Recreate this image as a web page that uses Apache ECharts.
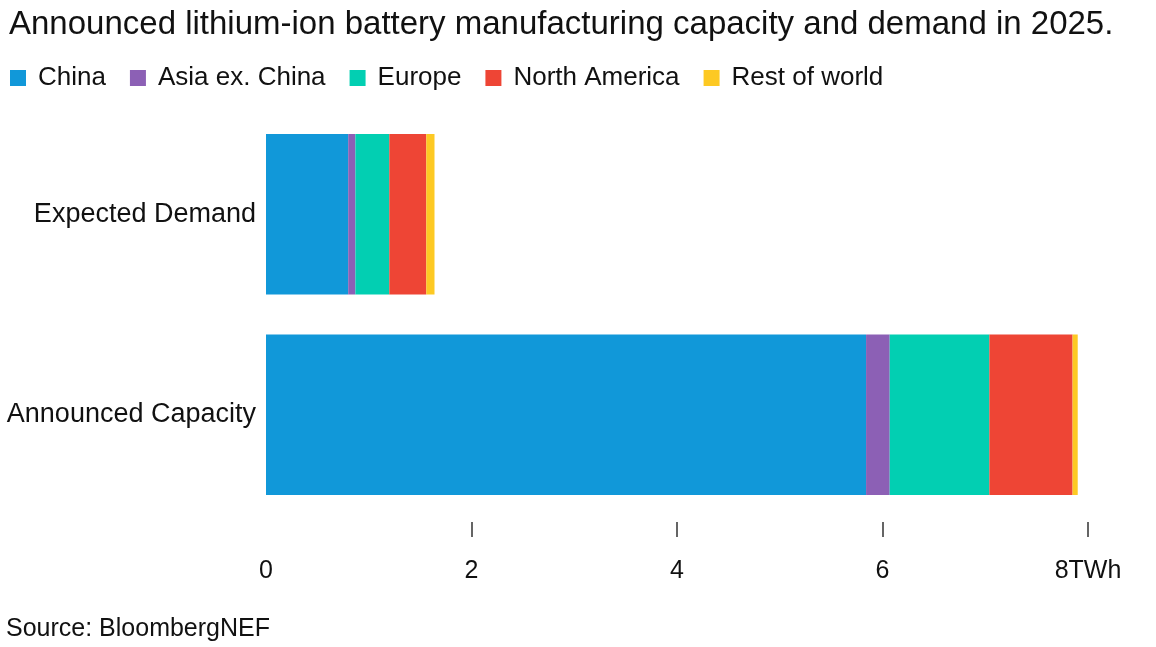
<!DOCTYPE html>
<html><head><meta charset="utf-8">
<script src="https://cdn.jsdelivr.net/npm/echarts@6/dist/echarts.min.js"></script>
<style>html,body{margin:0;padding:0;background:#fff}#c{width:1156px;height:647px}</style>
</head><body><div id="c"></div>
<script>
const categories = ['Expected Demand', 'Announced Capacity'];
const seriesNames = ['China', 'Asia ex. China', 'Europe', 'North America', 'Rest of world'];
const china = [0.80, 5.84];
const asiaExChina = [0.07, 0.23];
const europe = [0.33, 0.97];
const northAmerica = [0.36, 0.81];
const restOfWorld = [0.08, 0.05];
const tickValues = [0, 2, 4, 6, 8];
const colors = ['#1198d9', '#8c60b5', '#02cfb2', '#ee4535', '#fdc923'];
const values = [china, asiaExChina, europe, northAmerica, restOfWorld];
const FONT = '"Liberation Sans", Arial, sans-serif';

const chart = echarts.init(document.getElementById('c'), null, {renderer: 'canvas'});
chart.setOption({
  animation: false,
  color: colors,
  textStyle: {fontFamily: FONT},
  title: {
    text: 'Announced lithium-ion battery manufacturing capacity and demand in 2025.',
    left: 4, top: 3,
    textStyle: {fontSize: 33, fontWeight: 'normal', color: '#111', fontFamily: FONT}
  },
  legend: {
    left: 5, top: 60,
    itemWidth: 16, itemHeight: 16, itemGap: 24,
    icon: 'rect',
    textStyle: {fontSize: 26, color: '#111', fontFamily: FONT, padding: [0, 0, 0, 7]},
    data: seriesNames
  },
  graphic: [{
    type: 'text', left: 6, top: 617,
    style: {text: 'Source: BloombergNEF', fontSize: 25, fill: '#111', fontFamily: FONT}
  }],
  grid: {left: 266, right: 68, top: 114, bottom: 132, containLabel: false},
  xAxis: [{
    type: 'value', min: 0, max: 8, interval: 2,
    axisLine: {show: false}, splitLine: {show: false},
    axisTick: {show: false},
    axisLabel: {
      margin: 44, fontSize: 25, color: '#111', fontFamily: FONT,
      customValues: tickValues,
      formatter: v => v === 8 ? '8TWh' : String(v)
    }
  }, {
    type: 'value', min: 0, max: 8, interval: 2, position: 'bottom', offset: 7,
    axisLine: {show: false}, splitLine: {show: false},
    axisLabel: {show: false},
    axisTick: {show: true, length: 15, inside: false, customValues: tickValues.filter(v => v !== 0),
      lineStyle: {color: '#333', width: 1.5}}
  }],
  yAxis: {
    type: 'category', data: categories, inverse: true,
    axisLine: {show: false}, axisTick: {show: false},
    axisLabel: {fontSize: 27, color: '#111', margin: 10, fontFamily: FONT}
  },
  series: seriesNames.map((name, i) => ({
    name, type: 'bar', stack: 'total', data: values[i],
    barCategoryGap: '20%',
    itemStyle: {color: colors[i]}
  }))
});
</script></body></html>
